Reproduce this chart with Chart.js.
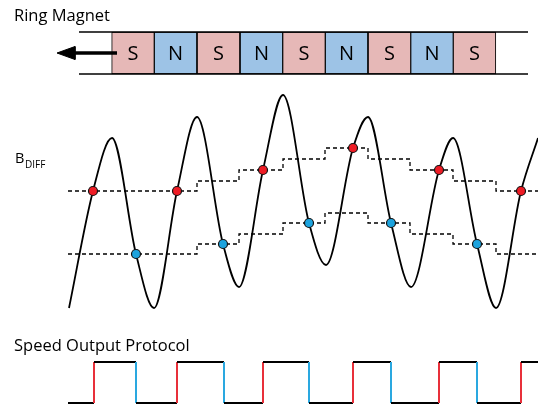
<!DOCTYPE html>
<html>
<head>
<meta charset="utf-8">
<script src="https://cdn.jsdelivr.net/npm/chart.js@4.4.1/dist/chart.umd.min.js"></script>
<style>
  html, body { margin: 0; padding: 0; background: #fff; }
  #wrap { width: 538px; height: 408px; position: relative; }
</style>
</head>
<body>
<div id="wrap"><canvas id="myChart"></canvas></div>
<script>
// diagram units: x to the right, y downward (same scale as the picture)
const poles = ['S', 'N', 'S', 'N', 'S', 'N', 'S', 'N', 'S'];
const poleEdges = [112, 154, 197, 240, 283, 325, 368, 411, 453, 496];
const stripX = [79, 528];
const stripY = [32, 74];
const arrowX = [117, 72];
const arrowHead = [[57, 53], [75, 46.5], [75, 59.5], [57, 53]];

const curveX = [69, 93, 112, 136, 154, 177, 197, 223, 239, 263, 283, 309, 326, 353, 368, 391, 411, 439, 453, 477, 496, 521, 538];
const curveY = [308, 191, 138, 254, 308, 191, 117, 244, 287, 170, 95, 223, 265, 148, 117, 223, 287, 170, 138, 244, 308, 191, 138];

const stepX = [68, 197, 239, 283, 325, 368, 410, 453, 496, 538];
const upperY = [191, 181, 170, 159, 148, 159, 170, 181, 191, 191];
const lowerY = [254, 244, 234, 223, 213, 223, 234, 244, 254, 254];

const redX = [93, 177, 263, 353, 439, 521];
const redY = [191, 191, 170, 148, 170, 191];
const blueX = [136, 223, 309, 391, 477];
const blueY = [254, 244, 223, 223, 244];

const outStart = 68;
const outEnd = 538;
const riseX = [94, 177, 263, 353, 439, 521];
const fallX = [136, 224, 309, 391, 477];
const outLow = 403;
const outHigh = 362;

function pts(xs, ys) {
  return xs.map((x, i) => ({ x: x, y: ys[i] }));
}

// square wave corners from the edge times
function buildOutput() {
  let edges = riseX.map(x => ({ x: x, up: true })).concat(fallX.map(x => ({ x: x, up: false })));
  edges.sort((a, b) => a.x - b.x);
  let out = [{ x: outStart, y: outLow }];
  let level = outLow;
  edges.forEach(e => {
    out.push({ x: e.x, y: level });
    level = e.up ? outHigh : outLow;
    out.push({ x: e.x, y: level });
  });
  out.push({ x: outEnd, y: level });
  return out;
}

const poleS = [], poleN = [];
poles.forEach((p, i) => {
  const bar = { x: (poleEdges[i] + poleEdges[i + 1]) / 2, y: stripY };
  (p === 'S' ? poleS : poleN).push(bar);
});
const poleWidth = (poleEdges[poleEdges.length - 1] - poleEdges[0]) / poles.length;

const labelPlugin = {
  id: 'labels',
  afterDatasetsDraw(chart) {
    const ctx = chart.ctx;
    const xs = chart.scales.x, ys = chart.scales.y;
    ctx.save();
    ctx.fillStyle = '#000';
    ctx.textBaseline = 'alphabetic';
    ctx.textAlign = 'left';
    ctx.font = '16.5px "Open Sans"';
    ctx.fillText('Ring Magnet', 14, 21);
    ctx.fillText('Speed Output Protocol', 14, 351);
    ctx.font = '14.5px "Open Sans"';
    ctx.fillText('B', 15, 163);
    ctx.font = '10px "Open Sans"';
    ctx.fillText('DIFF', 25, 168);
    ctx.font = '20px "Open Sans"';
    ctx.textAlign = 'center';
    ctx.textBaseline = 'middle';
    poles.forEach((p, i) => {
      const cx = xs.getPixelForValue((poleEdges[i] + poleEdges[i + 1]) / 2);
      const cy = ys.getPixelForValue((stripY[0] + stripY[1]) / 2);
      ctx.fillText(p, cx, cy + 1);
    });
    ctx.restore();
  }
};

const ctx = document.getElementById('myChart');

new Chart(ctx, {
  type: 'line',
  data: {
    datasets: [
      {
        data: pts(redX, redY),
        showLine: false,
        pointRadius: 4.5,
        pointBackgroundColor: '#ee1c25',
        pointBorderColor: '#111',
        pointBorderWidth: 1.2,
        order: 1
      },
      {
        data: pts(blueX, blueY),
        showLine: false,
        pointRadius: 4.5,
        pointBackgroundColor: '#1ca3de',
        pointBorderColor: '#111',
        pointBorderWidth: 1.2,
        order: 1
      },
      {
        data: pts(curveX, curveY),
        borderColor: '#000',
        borderWidth: 1.8,
        cubicInterpolationMode: 'monotone',
        pointRadius: 0,
        order: 2
      },
      {
        data: pts(stepX, upperY),
        stepped: 'before',
        borderColor: '#000',
        borderWidth: 1.3,
        borderDash: [4, 3],
        pointRadius: 0,
        order: 3
      },
      {
        data: pts(stepX, lowerY),
        stepped: 'before',
        borderColor: '#000',
        borderWidth: 1.3,
        borderDash: [4, 3],
        pointRadius: 0,
        order: 3
      },
      {
        data: buildOutput(),
        borderWidth: 2,
        borderColor: '#000',
        pointRadius: 0,
        segment: {
          borderColor: c => {
            if (c.p0.parsed.x !== c.p1.parsed.x) return '#000';
            return c.p1.parsed.y < c.p0.parsed.y ? '#e8303a' : '#2aa8e0';
          }
        },
        order: 4
      },
      {
        type: 'bar',
        data: poleS,
        backgroundColor: '#e6b8b7',
        borderColor: '#000',
        borderWidth: 1,
        borderSkipped: false,
        barThickness: poleWidth,
        grouped: false,
        order: 6
      },
      {
        type: 'bar',
        data: poleN,
        backgroundColor: '#9dc3e6',
        borderColor: '#000',
        borderWidth: 1,
        borderSkipped: false,
        barThickness: poleWidth,
        grouped: false,
        order: 6
      },
      {
        data: pts(stripX, [stripY[0], stripY[0]]),
        borderColor: '#000',
        borderWidth: 1.5,
        pointRadius: 0,
        order: 5
      },
      {
        data: pts(stripX, [stripY[1], stripY[1]]),
        borderColor: '#000',
        borderWidth: 1.5,
        pointRadius: 0,
        order: 5
      },
      {
        data: pts(arrowX, [53, 53]),
        borderColor: '#000',
        borderWidth: 3.5,
        pointRadius: 0,
        order: 4
      },
      {
        data: arrowHead.map(p => ({ x: p[0], y: p[1] })),
        borderColor: '#000',
        backgroundColor: '#000',
        borderWidth: 1,
        fill: 'shape',
        pointRadius: 0,
        order: 4
      }
    ]
  },
  options: {
    responsive: true,
    maintainAspectRatio: false,
    animation: false,
    layout: { padding: 0, autoPadding: false },
    plugins: {
      legend: { display: false },
      tooltip: { enabled: false },
      title: { display: false }
    },
    scales: {
      x: { type: 'linear', min: 0, max: 538, offset: false, display: false },
      y: { type: 'linear', min: 0, max: 408, reverse: true, display: false }
    }
  },
  plugins: [labelPlugin]
});
</script>
</body>
</html>
